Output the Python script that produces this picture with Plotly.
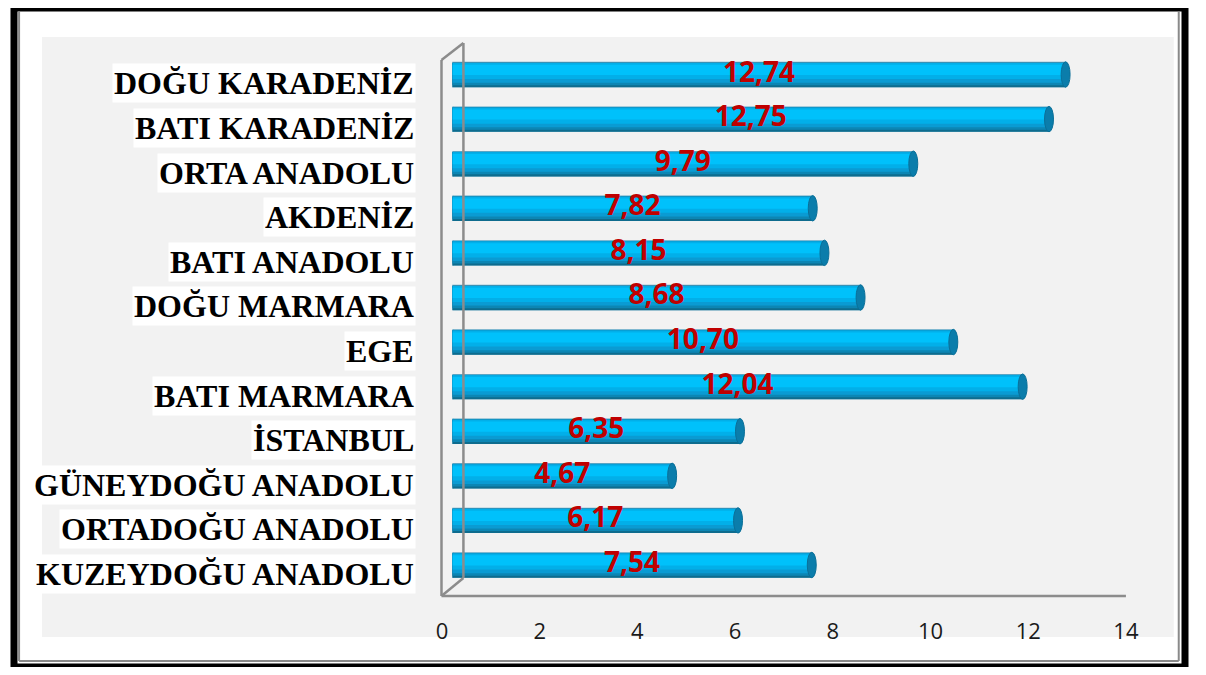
import plotly.graph_objects as go

# ---------------- data ----------------
regions = [
    "DOĞU KARADENİZ", "BATI KARADENİZ", "ORTA ANADOLU", "AKDENİZ",
    "BATI ANADOLU", "DOĞU MARMARA", "EGE", "BATI MARMARA", "İSTANBUL",
    "GÜNEYDOĞU ANADOLU", "ORTADOĞU ANADOLU", "KUZEYDOĞU ANADOLU",
]
# bar lengths as drawn in the picture
bar_values = [12.56, 12.22, 9.44, 7.38, 7.62, 8.36, 10.26, 11.68, 5.89, 4.50, 5.85, 7.36]
# data labels printed on the bars
data_labels = ["12,74", "12,75", "9,79", "7,82", "8,15", "8,68", "10,70",
               "12,04", "6,35", "4,67", "6,17", "7,54"]
tick_values = [0, 2, 4, 6, 8, 10, 12, 14]

# page layout: body keeps its default 8px margin; the figure is 1190x659
PAGE_MARGIN = 8
W, H = 1206 - 2 * PAGE_MARGIN, 675 - 2 * PAGE_MARGIN
XS = 1206 / 1221          # horizontal scale observed in the photographed page
DX = -3                   # small horizontal correction for the chart body
n = len(regions)
ypos = [n - 1 - i for i in range(n)]          # top row = highest y


def px(x, dx=DX):
    return ((x + dx) / XS - PAGE_MARGIN) / W


def py(y):
    return 1 - (y - PAGE_MARGIN) / H


# cylinder shading layers: (bottom fraction, top fraction, colour)
layers = [
    (0.00, 1.000, "#5AA5C4"),
    (0.00, 0.960, "#0E6C8E"),
    (0.08, 0.960, "#0C86B4"),
    (0.18, 0.955, "#0A9BD3"),
    (0.32, 0.950, "#02AFE9"),
    (0.48, 0.880, "#00C1FB"),
]
THICK = 0.57
HALF_CAP = 4.5 / 49.0   # half width of end ellipse in data units

fig = go.Figure()

for f0, f1, col in layers:
    fig.add_trace(go.Bar(
        x=bar_values, y=ypos, orientation="h",
        base=0, offset=-THICK / 2 + f0 * THICK, width=(f1 - f0) * THICK,
        marker=dict(color=col, line=dict(width=0)),
        hoverinfo="skip", showlegend=False,
    ))

# data labels
fig.add_trace(go.Scatter(
    x=[v / 2 for v in bar_values], y=ypos, mode="text", text=data_labels,
    textposition="middle center",
    textfont=dict(family="Open Sans", size=28, color="#C00000", weight="bold"),
    hoverinfo="skip", showlegend=False,
))

# dummy trace for the tick-label axis
fig.add_trace(go.Scatter(x=[0], y=[0], xaxis="x2", yaxis="y", mode="markers",
                         marker=dict(size=0, opacity=0), hoverinfo="skip",
                         showlegend=False))

shapes = []
# grey chart area
shapes.append(dict(type="rect", xref="paper", yref="paper", layer="below",
                   x0=px(36, 0), x1=px(1172, 0), y0=py(637), y1=py(37),
                   fillcolor="#F2F2F2", line=dict(width=0)))

# left rounded ends (layered ellipses) and right caps
for v, y in zip(bar_values, ypos):
    for f0, f1, col in layers:
        shapes.append(dict(type="circle", xref="x", yref="y", layer="below",
                           x0=-HALF_CAP, x1=HALF_CAP,
                           y0=y - THICK / 2 + f0 * THICK, y1=y - THICK / 2 + f1 * THICK,
                           fillcolor=col, line=dict(width=0)))
    shapes.append(dict(type="circle", xref="x", yref="y", layer="above",
                       x0=v - HALF_CAP, x1=v + HALF_CAP,
                       y0=y - THICK / 2, y1=y + THICK / 2,
                       fillcolor="#0B7DAB", line=dict(width=1, color="#0A6F98")))

# 3-D walls / floor outline
gray = "#8C8C8C"
for (xa, ya, xb, yb) in [(440, 60, 440, 596), (440, 60, 462, 43), (462, 43, 462, 578),
                         (440, 596, 462, 578), (440, 596, 1127, 596)]:
    shapes.append(dict(type="line", xref="paper", yref="paper",
                       x0=px(xa), y0=py(ya), x1=px(xb), y1=py(yb),
                       line=dict(color=gray, width=2.5)))

# outer frame (black border + grey shadow line)
shapes.append(dict(type="rect", xref="paper", yref="paper",
                   x0=0, x1=1, y0=0, y1=1,
                   line=dict(color="black", width=7)))
for (xa, ya, xb, yb) in [(13, 12, 13, 661), (13, 661, 1177, 661), (1177, 12, 1177, 661)]:
    shapes.append(dict(type="line", xref="paper", yref="paper",
                       x0=px(xa, 0), y0=py(ya), x1=px(xb, 0), y1=py(yb),
                       line=dict(color="#8A8A8A", width=2)))

# category labels with white backgrounds
annotations = []
for name, y in zip(regions, ypos):
    annotations.append(dict(
        text=name, xref="paper", yref="y", x=px(414), y=y, xanchor="right",
        yanchor="middle", yshift=-9, showarrow=False, bgcolor="white", borderpad=1,
        font=dict(family="Liberation Serif", size=32, color="black", weight="bold"),
    ))

fig.update_layout(
    width=W, height=H, autosize=False, margin=dict(l=0, r=0, t=0, b=0),
    paper_bgcolor="white", plot_bgcolor="rgba(0,0,0,0)",
    barmode="overlay", showlegend=False,
    xaxis=dict(domain=[px(451), px(451 + 49 * 14)], range=[0, 14], visible=False,
               fixedrange=True),
    xaxis2=dict(domain=[px(440.5), px(1127)], range=[0, 14], anchor="free",
                position=py(616), tickvals=tick_values, ticks="", showgrid=False,
                zeroline=False, showline=False, fixedrange=True,
                tickfont=dict(family="Open Sans", size=22, color="#1A1A1A")),
    yaxis=dict(domain=[py(587.3), py(52.2)], range=[-0.5, n - 0.5], visible=False,
               fixedrange=True),
    shapes=shapes, annotations=annotations,
)

fig.write_html("out.html", config={"displayModeBar": False})
